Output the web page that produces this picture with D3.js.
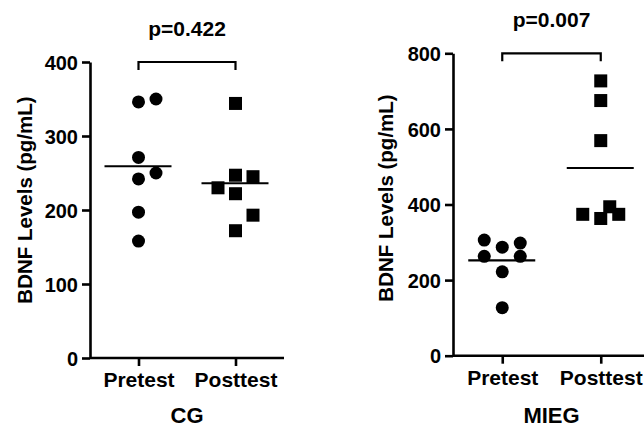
<!DOCTYPE html>
<html>
<head>
<meta charset="utf-8">
<script src="https://cdn.jsdelivr.net/npm/d3@7"></script>
<style>
  html, body { margin: 0; padding: 0; background: #fff; }
  svg { display: block; }
  text { font-family: "Liberation Sans", Arial, Helvetica, sans-serif; font-weight: bold; fill: #000; }
</style>
</head>
<body>
<svg id="chart" width="644" height="428"></svg>
<script>
// ---- data ----
const groups = ["Pretest", "Posttest"];
const cgPretest = [346, 350, 271, 250, 242, 197, 158];
const cgPretestSlot = [0, 1, 0, 1, 0, 0, 0];
const cgPosttest = [344, 247, 245, 230, 222, 193, 172];
const cgPosttestSlot = [0, 0, 1, -1, 0, 1, 0];
const miegPretest = [306, 287, 298, 263, 263, 222, 127];
const miegPretestSlot = [-1, 0, 1, -1, 1, 0, 0];
const miegPosttest = [727, 675, 569, 374, 363, 394, 374];
const miegPosttestSlot = [0, 0, 0, -1, 0, 0.5, 1];
const cgTicks = [0, 100, 200, 300, 400];
const miegTicks = [0, 200, 400, 600, 800];
const pValues = ["p=0.422", "p=0.007"];
const panelTitles = ["CG", "MIEG"];
const yTitle = "BDNF Levels (pg/mL)";

const svg = d3.select("#chart");

const panels = [
  { title: panelTitles[0], p: pValues[0], ticks: cgTicks, max: 400,
    pre: cgPretest, preSlot: cgPretestSlot, post: cgPosttest, postSlot: cgPosttestSlot,
    x0: 90, x1: 284, y0: 358, y1: 62, slotW: 17.5, ylabX: 25, ylabY: 200 },
  { title: panelTitles[1], p: pValues[1], ticks: miegTicks, max: 800,
    pre: miegPretest, preSlot: miegPretestSlot, post: miegPosttest, postSlot: miegPosttestSlot,
    x0: 453, x1: 650, y0: 355.7, y1: 53.3, slotW: 18, ylabX: 386, ylabY: 198 }
];

panels.forEach(P => {
  const g = svg.append("g");
  const y = d3.scaleLinear().domain([0, P.max]).range([P.y0, P.y1]);
  const x = d3.scalePoint().domain(groups).range([P.x0, P.x1]).padding(0.5);

  // y axis
  const yAxis = d3.axisLeft(y).tickValues(P.ticks).tickSize(8).tickPadding(4).tickSizeOuter(0);
  const ya = g.append("g").attr("transform", `translate(${P.x0},0)`).call(yAxis);
  ya.select(".domain").attr("stroke", "#000").attr("stroke-width", 2.6);
  ya.selectAll(".tick line").attr("stroke", "#000").attr("stroke-width", 2.6);
  ya.selectAll(".tick text").style("font-size", "20px").attr("dy", "0.36em");

  // x axis
  const xAxis = d3.axisBottom(x).tickSize(8).tickPadding(6).tickSizeOuter(0);
  const xa = g.append("g").attr("transform", `translate(0,${P.y0})`).call(xAxis);
  xa.select(".domain").attr("stroke", "#000").attr("stroke-width", 2.6)
    .attr("d", `M${P.x0},0H${P.x1}`);
  xa.selectAll(".tick line").attr("stroke", "#000").attr("stroke-width", 2.6);
  xa.selectAll(".tick text").style("font-size", "21px").attr("dy", "0.71em");

  // titles
  g.append("text").attr("x", (x("Pretest") + x("Posttest")) / 2).attr("y", 423)
    .attr("text-anchor", "middle").style("font-size", "22px").text(P.title);
  g.append("text").attr("transform", `translate(${P.ylabX + 7},${P.ylabY}) rotate(-90)`)
    .attr("text-anchor", "middle").style("font-size", "20.5px").text(yTitle);

  // bracket + p value
  const by = y(P.max);
  const bx0 = x("Pretest"), bx1 = x("Posttest");
  g.append("path").attr("d", `M${bx0},${by + 8}V${by}H${bx1}V${by + 8}`)
    .attr("fill", "none").attr("stroke", "#000").attr("stroke-width", 2.2);
  g.append("text").attr("x", (bx0 + bx1) / 2).attr("y", by - 26)
    .attr("text-anchor", "middle").style("font-size", "21px").text(P.p);

  // pretest circles
  g.selectAll("circle.pre").data(P.pre).enter().append("circle")
    .attr("cx", (d, i) => x("Pretest") + P.preSlot[i] * P.slotW)
    .attr("cy", d => y(d)).attr("r", 6.5).attr("fill", "#000");
  // posttest squares
  const s = 13;
  g.selectAll("rect.post").data(P.post).enter().append("rect")
    .attr("x", (d, i) => x("Posttest") + P.postSlot[i] * P.slotW - s / 2)
    .attr("y", d => y(d) - s / 2).attr("width", s).attr("height", s).attr("fill", "#000");

  // mean lines
  [["Pretest", P.pre], ["Posttest", P.post]].forEach(([k, arr]) => {
    const m = d3.mean(arr);
    g.append("line").attr("x1", x(k) - 34).attr("x2", x(k) + 33)
      .attr("y1", y(m)).attr("y2", y(m)).attr("stroke", "#000").attr("stroke-width", 2.2);
  });
});
</script>
</body>
</html>
